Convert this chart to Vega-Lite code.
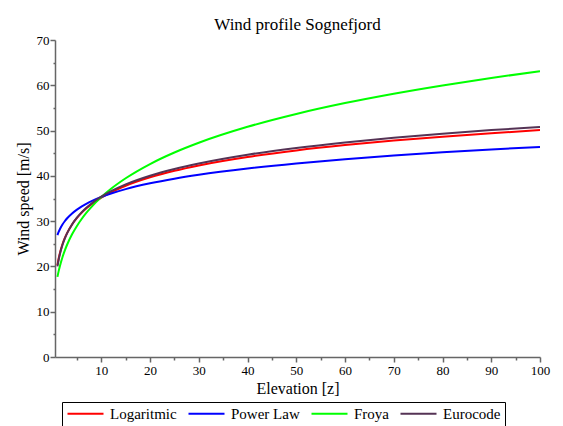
{
  "$schema": "https://vega.github.io/schema/vega-lite/v6.json",
  "width": 485,
  "height": 317,
  "autosize": {"type": "none"},
  "padding": {"left": 55, "top": 40, "right": 23, "bottom": 69},
  "background": "white",
  "config": {
    "view": {"stroke": null},
    "font": "Liberation Serif",
    "axis": {"labelFont": "Liberation Serif", "titleFont": "Liberation Serif"},
    "legend": {"labelFont": "Liberation Serif"},
    "title": {"font": "Liberation Serif"}
  },
  "title": {
    "text": "Wind profile Sognefjord",
    "fontSize": 17,
    "fontWeight": "normal",
    "color": "#000000",
    "frame": "group",
    "anchor": "middle",
    "offset": 0
  },
  "data": {
    "values": [
      {"z": 1, "v": 20.30, "model": "Logaritmic"},
      {"z": 1.25, "v": 21.74, "model": "Logaritmic"},
      {"z": 1.5, "v": 22.92, "model": "Logaritmic"},
      {"z": 2, "v": 24.78, "model": "Logaritmic"},
      {"z": 2.5, "v": 26.23, "model": "Logaritmic"},
      {"z": 3, "v": 27.41, "model": "Logaritmic"},
      {"z": 4, "v": 29.27, "model": "Logaritmic"},
      {"z": 5, "v": 30.71, "model": "Logaritmic"},
      {"z": 6, "v": 31.89, "model": "Logaritmic"},
      {"z": 7, "v": 32.89, "model": "Logaritmic"},
      {"z": 8, "v": 33.75, "model": "Logaritmic"},
      {"z": 10, "v": 35.20, "model": "Logaritmic"},
      {"z": 12, "v": 36.38, "model": "Logaritmic"},
      {"z": 15, "v": 37.82, "model": "Logaritmic"},
      {"z": 20, "v": 39.68, "model": "Logaritmic"},
      {"z": 25, "v": 41.13, "model": "Logaritmic"},
      {"z": 30, "v": 42.31, "model": "Logaritmic"},
      {"z": 40, "v": 44.17, "model": "Logaritmic"},
      {"z": 50, "v": 45.61, "model": "Logaritmic"},
      {"z": 60, "v": 46.79, "model": "Logaritmic"},
      {"z": 70, "v": 47.79, "model": "Logaritmic"},
      {"z": 80, "v": 48.65, "model": "Logaritmic"},
      {"z": 90, "v": 49.41, "model": "Logaritmic"},
      {"z": 100, "v": 50.10, "model": "Logaritmic"},
      {"z": 1, "v": 26.90, "model": "Power Law"},
      {"z": 1.25, "v": 27.62, "model": "Power Law"},
      {"z": 1.5, "v": 28.22, "model": "Power Law"},
      {"z": 2, "v": 29.20, "model": "Power Law"},
      {"z": 2.5, "v": 29.98, "model": "Power Law"},
      {"z": 3, "v": 30.64, "model": "Power Law"},
      {"z": 4, "v": 31.70, "model": "Power Law"},
      {"z": 5, "v": 32.55, "model": "Power Law"},
      {"z": 6, "v": 33.26, "model": "Power Law"},
      {"z": 7, "v": 33.87, "model": "Power Law"},
      {"z": 8, "v": 34.41, "model": "Power Law"},
      {"z": 10, "v": 35.33, "model": "Power Law"},
      {"z": 12, "v": 36.10, "model": "Power Law"},
      {"z": 15, "v": 37.07, "model": "Power Law"},
      {"z": 20, "v": 38.35, "model": "Power Law"},
      {"z": 25, "v": 39.38, "model": "Power Law"},
      {"z": 30, "v": 40.24, "model": "Power Law"},
      {"z": 40, "v": 41.63, "model": "Power Law"},
      {"z": 50, "v": 42.75, "model": "Power Law"},
      {"z": 60, "v": 43.68, "model": "Power Law"},
      {"z": 70, "v": 44.49, "model": "Power Law"},
      {"z": 80, "v": 45.19, "model": "Power Law"},
      {"z": 90, "v": 45.83, "model": "Power Law"},
      {"z": 100, "v": 46.40, "model": "Power Law"},
      {"z": 1, "v": 17.70, "model": "Froya"},
      {"z": 1.25, "v": 18.96, "model": "Froya"},
      {"z": 1.5, "v": 20.06, "model": "Froya"},
      {"z": 2, "v": 21.93, "model": "Froya"},
      {"z": 2.5, "v": 23.49, "model": "Froya"},
      {"z": 3, "v": 24.84, "model": "Froya"},
      {"z": 4, "v": 27.09, "model": "Froya"},
      {"z": 5, "v": 28.94, "model": "Froya"},
      {"z": 6, "v": 30.53, "model": "Froya"},
      {"z": 7, "v": 31.92, "model": "Froya"},
      {"z": 8, "v": 33.16, "model": "Froya"},
      {"z": 10, "v": 35.32, "model": "Froya"},
      {"z": 12, "v": 37.15, "model": "Froya"},
      {"z": 15, "v": 39.47, "model": "Froya"},
      {"z": 20, "v": 42.61, "model": "Froya"},
      {"z": 25, "v": 45.16, "model": "Froya"},
      {"z": 30, "v": 47.31, "model": "Froya"},
      {"z": 40, "v": 50.83, "model": "Froya"},
      {"z": 50, "v": 53.67, "model": "Froya"},
      {"z": 60, "v": 56.07, "model": "Froya"},
      {"z": 70, "v": 58.14, "model": "Froya"},
      {"z": 80, "v": 59.97, "model": "Froya"},
      {"z": 90, "v": 61.62, "model": "Froya"},
      {"z": 100, "v": 63.11, "model": "Froya"},
      {"z": 1, "v": 20.00, "model": "Eurocode"},
      {"z": 1.25, "v": 21.49, "model": "Eurocode"},
      {"z": 1.5, "v": 22.71, "model": "Eurocode"},
      {"z": 2, "v": 24.64, "model": "Eurocode"},
      {"z": 2.5, "v": 26.13, "model": "Eurocode"},
      {"z": 3, "v": 27.35, "model": "Eurocode"},
      {"z": 4, "v": 29.27, "model": "Eurocode"},
      {"z": 5, "v": 30.77, "model": "Eurocode"},
      {"z": 6, "v": 31.99, "model": "Eurocode"},
      {"z": 7, "v": 33.02, "model": "Eurocode"},
      {"z": 8, "v": 33.91, "model": "Eurocode"},
      {"z": 10, "v": 35.40, "model": "Eurocode"},
      {"z": 12, "v": 36.62, "model": "Eurocode"},
      {"z": 15, "v": 38.12, "model": "Eurocode"},
      {"z": 20, "v": 40.04, "model": "Eurocode"},
      {"z": 25, "v": 41.53, "model": "Eurocode"},
      {"z": 30, "v": 42.75, "model": "Eurocode"},
      {"z": 40, "v": 44.68, "model": "Eurocode"},
      {"z": 50, "v": 46.17, "model": "Eurocode"},
      {"z": 60, "v": 47.39, "model": "Eurocode"},
      {"z": 70, "v": 48.42, "model": "Eurocode"},
      {"z": 80, "v": 49.32, "model": "Eurocode"},
      {"z": 90, "v": 50.10, "model": "Eurocode"},
      {"z": 100, "v": 50.81, "model": "Eurocode"}
    ]
  },
  "mark": {"type": "line", "strokeWidth": 2, "interpolate": "monotone", "clip": true},
  "encoding": {
    "x": {
      "field": "z",
      "type": "quantitative",
      "scale": {"domain": [0.5, 100], "nice": false, "zero": false},
      "axis": {
        "title": "Elevation [z]",
        "values": [5, 10, 15, 20, 25, 30, 35, 40, 45, 50, 55, 60, 65, 70, 75, 80, 85, 90, 95, 100],
        "labelExpr": "datum.value % 10 === 0 ? datum.label : ''",
        "labelFlush": false,
        "labelOverlap": false,
        "tickSize": {"condition": {"test": "datum.value % 10 === 0", "value": 5}, "value": 3},
        "grid": false,
        "domainColor": "#666666",
        "domainWidth": 1.5,
        "tickColor": "#666666",
        "tickWidth": 1.5,
        "labelFont": "Liberation Serif",
        "titleFont": "Liberation Serif",
        "labelFontSize": 13,
        "labelColor": "#000000",
        "labelPadding": 2,
        "titleFontSize": 16,
        "titleFontWeight": "normal",
        "titleColor": "#000000",
        "titlePadding": 3
      }
    },
    "y": {
      "field": "v",
      "type": "quantitative",
      "scale": {"domain": [0, 70], "nice": false},
      "axis": {
        "title": "Wind speed [m/s]",
        "values": [0, 5, 10, 15, 20, 25, 30, 35, 40, 45, 50, 55, 60, 65, 70],
        "labelExpr": "datum.value % 10 === 0 ? datum.label : ''",
        "labelFlush": false,
        "labelOverlap": false,
        "tickSize": {"condition": {"test": "datum.value % 10 === 0", "value": 5}, "value": 2},
        "grid": false,
        "domainColor": "#666666",
        "domainWidth": 1.5,
        "tickColor": "#666666",
        "tickWidth": 1.5,
        "labelFont": "Liberation Serif",
        "titleFont": "Liberation Serif",
        "labelFontSize": 13,
        "labelColor": "#000000",
        "labelPadding": 1,
        "titleFontSize": 16,
        "titleFontWeight": "normal",
        "titleColor": "#000000",
        "titlePadding": 5
      }
    },
    "color": {
      "field": "model",
      "type": "nominal",
      "scale": {
        "domain": ["Logaritmic", "Power Law", "Froya", "Eurocode"],
        "range": ["#ff0000", "#0000ff", "#00ff00", "#553355"]
      },
      "legend": {
        "title": null,
        "orient": "none",
        "direction": "horizontal",
        "legendX": 7,
        "legendY": 362,
        "symbolType": "M-1,0H5",
        "symbolSize": 144,
        "symbolStrokeWidth": 2,
        "labelOffset": 29,
        "columnPadding": 7,
        "labelFont": "Liberation Serif",
        "labelFontSize": 15,
        "labelColor": "#000000",
        "padding": 4,
        "strokeColor": "#000000",
        "fillColor": "#ffffff"
      }
    }
  }
}
